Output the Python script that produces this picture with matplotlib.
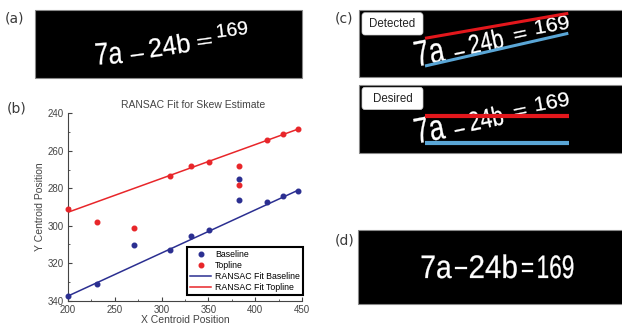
import numpy as np
import matplotlib
matplotlib.use("Agg")
from matplotlib import pyplot as plt
from matplotlib.patches import Rectangle, FancyBboxPatch, PathPatch
from matplotlib.textpath import TextPath
from matplotlib.font_manager import FontProperties
from matplotlib.transforms import Affine2D
from matplotlib.ticker import MultipleLocator

# centroid positions
x_pos = [200.5, 230.5, 270.5, 308.5, 331, 351, 383, 383, 412.5, 429.3, 445.7]
baseline = [337.3, 331.1, 310.3, 313.1, 305.3, 302.3, 275.2, 286.3, 287.3, 284.1, 281.3]
topline = [291.1, 298.2, 301.0, 273.3, 268.3, 266.0, 268.3, 278.3, 254.4, 251.2, 248.4]

# RANSAC fit end points
fit_x = [200, 446]
fit_base = [337.5, 281.0]
fit_top = [292.8, 248.4]

eq_parts = ["7a", "\u2013", "24b", "=", "169"]

fig = plt.figure(figsize=(6.22, 3.24), dpi=100)

# overlay in pixel coords for the image panels
ov = fig.add_axes([0, 0, 1, 1])
ov.set_xlim(0, 622)
ov.set_ylim(324, 0)
ov.axis("off")

lab_col = "#3a3a3a"
for lab, (lx, ly) in zip(["(a)", "(b)", "(c)", "(d)"],
                          [(5, 19), (7, 108), (335, 19), (335, 240)]):
    ov.text(lx, ly, lab, fontsize=10, color=lab_col, va="center", ha="left",
            family="DejaVu Sans")

def black_box(x0, y0, x1, y1):
    ov.add_patch(Rectangle((x0, y0), x1 - x0, y1 - y0, facecolor="black",
                           edgecolor="#888888", linewidth=0.8))

eq_prop = FontProperties(family="Liberation Sans")

def glyphs(s, x, y, w, size, rot, z=3):
    # white glyphs squeezed to width w, bottom-left ink corner at (x, y)
    tp = TextPath((0, 0), s, size=size, prop=eq_prop)
    bb = tp.get_extents()
    sx = w / bb.width
    tr = Affine2D().translate(-bb.x0, -bb.y0).scale(sx, -1).rotate_deg(-rot).translate(x, y)
    ov.add_patch(PathPatch(tr.transform_path(tp), facecolor="white",
                           edgecolor="white", lw=0.2, zorder=z))

def equation(spots, dy=0):
    for part, (px, py, w, sz, rot) in zip(eq_parts, spots):
        glyphs(part, px, py + dy, w, sz, rot)

# (a)
black_box(35, 10, 302, 78)
equation([(96.7, 65, 26.3, 31, 4), (131, 56.7, 13, 24, 8), (151, 57.7, 40, 26.5, 8.5),
          (198, 45, 14, 18, 8), (218, 37.7, 30, 19, 7)])

# (c) detected / desired
black_box(359, 10, 623, 77)
black_box(359, 85, 623, 153)
c_spots = [(418, 66.7, 28.7, 36, 11), (455, 55, 10, 26, 12), (471.7, 54.3, 33.3, 27, 12),
           (515, 38.3, 11.7, 19, 12), (536.7, 34.3, 33.3, 20, 10)]
equation(c_spots)
equation(c_spots, dy=77)
red_c, blue_c = "#e3171c", "#5aa6d6"
ov.plot([425, 568.3], [66, 33.3], color=blue_c, lw=2.2, zorder=4, solid_capstyle="butt")
ov.plot([425, 568.3], [38.3, 13.3], color=red_c, lw=2.2, zorder=4, solid_capstyle="butt")
ov.plot([425, 569], [116, 116], color=red_c, lw=3, zorder=4, solid_capstyle="butt")
ov.plot([425, 569], [142.7, 142.7], color=blue_c, lw=3, zorder=4, solid_capstyle="butt")
for tag, ty in (("Detected", 12.7), ("Desired", 87.3)):
    ov.add_patch(FancyBboxPatch((362, ty), 61, 22.3, boxstyle="round,pad=0,rounding_size=3",
                                facecolor="white", edgecolor="#cccccc", lw=0.5, zorder=5))
    ov.text(392.5, ty + 11.5, tag, fontsize=8.3, color="#222222", ha="center", va="center",
            family="Liberation Sans", zorder=6)

# (d)
black_box(358, 230, 623, 304)
equation([(421.7, 278.3, 30, 32.5, 0), (455, 269.3, 11.7, 32.5, 0), (470, 278.3, 46.7, 32.5, 0),
          (521.7, 272.3, 11.6, 30, 0), (538.3, 278.3, 35, 32.5, 0)])

# (b) the RANSAC plot
ax = fig.add_axes([68 / 622, (324 - 300.7) / 324, 234 / 622, 187.4 / 324])
blue, red = "#2b2f91", "#e8262a"
ax.plot(x_pos, baseline, "o", color=blue, ms=3.3, label="Baseline", clip_on=False, zorder=3)
ax.plot(x_pos, topline, "o", color=red, ms=3.3, label="Topline", clip_on=False, zorder=3)
ax.plot(fit_x, fit_base, color=blue, lw=1.1, label="RANSAC Fit Baseline")
ax.plot(fit_x, fit_top, color=red, lw=1.1, label="RANSAC Fit Topline")
ax.set_xlim(200, 450)
ax.set_ylim(340, 240)
ax.xaxis.set_major_locator(MultipleLocator(50))
ax.yaxis.set_major_locator(MultipleLocator(20))
ax.xaxis.set_minor_locator(MultipleLocator(25))
ax.yaxis.set_minor_locator(MultipleLocator(10))
ax.spines["top"].set_visible(False)
ax.spines["right"].set_visible(False)
for s in ("left", "bottom"):
    ax.spines[s].set_color("#444444")
    ax.spines[s].set_linewidth(0.8)
ax.tick_params(which="both", direction="in", labelsize=7, colors="#444444", pad=3)
ax.tick_params(which="major", length=3)
ax.tick_params(which="minor", length=1.5)
for t in ax.get_xticklabels() + ax.get_yticklabels():
    t.set_family("Liberation Sans")
ax.set_title("RANSAC Fit for Skew Estimate", fontsize=7.5, color="#444444",
             family="Liberation Sans", pad=4, x=0.534)
ax.set_xlabel("X Centroid Position", fontsize=7.5, color="#444444",
              family="Liberation Sans", labelpad=0)
ax.set_ylabel("Y Centroid Position", fontsize=7.5, color="#444444",
              family="Liberation Sans", labelpad=2)
leg = ax.legend(loc="lower right", bbox_to_anchor=(1.005, 0.03),
                frameon=True, fancybox=False, framealpha=1, edgecolor="black",
                borderpad=0.35, labelspacing=0.22, handlelength=2.4, handletextpad=0.45,
                borderaxespad=0, prop={"family": "Liberation Sans", "size": 6.3})
leg.get_frame().set_linewidth(1.5)

fig.savefig("out.png", dpi=100)
